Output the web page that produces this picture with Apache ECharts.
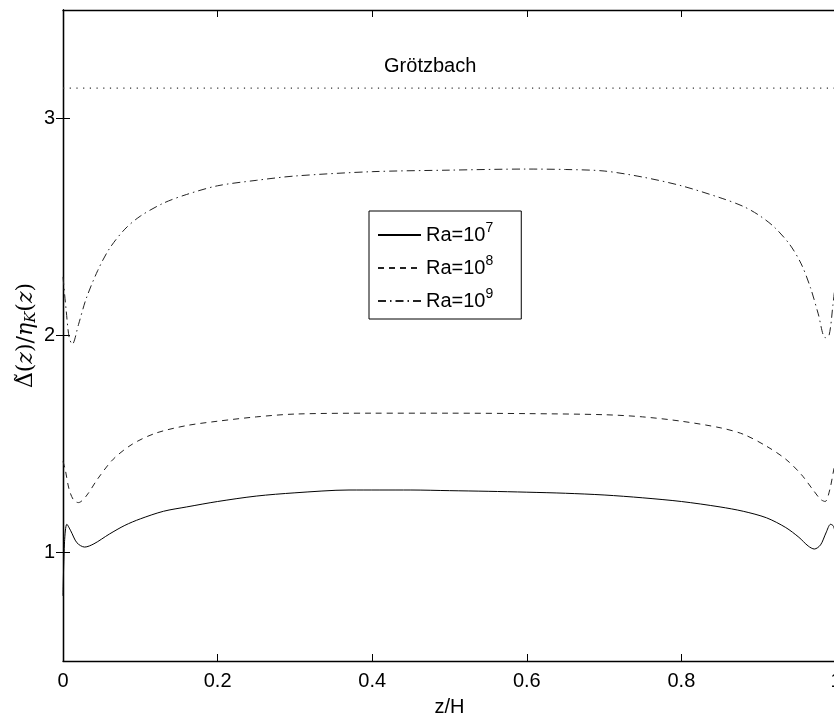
<!DOCTYPE html>
<html>
<head>
<meta charset="utf-8">
<script src="https://cdn.jsdelivr.net/npm/echarts@6/dist/echarts.min.js"></script>
<style>html,body{margin:0;padding:0;background:#fff}#c{width:834px;height:715px}</style>
</head>
<body>
<div id="c"></div>
<script>
// ---- data ----
var xTicks = [0, 0.2, 0.4, 0.6, 0.8, 1];
var yTicks = [1, 2, 3];
var seriesNames = ['Ra=10^7', 'Ra=10^8', 'Ra=10^9'];
var grotzbachValue = 3.14;
var grotzbachLabel = 'Grötzbach';
var grotzbachLabelX = 0.475;

var x7 = [0, 0.002, 0.005, 0.01, 0.018, 0.028, 0.04, 0.06, 0.08, 0.1, 0.13, 0.16, 0.2, 0.25, 0.3, 0.37, 0.45, 0.5, 0.55, 0.6, 0.65, 0.7, 0.75, 0.8, 0.85, 0.88, 0.91, 0.935, 0.952, 0.964, 0.972, 0.98, 0.987, 0.993, 0.997, 1.0];
var y7 = [0.8, 1.05, 1.13, 1.10, 1.045, 1.025, 1.04, 1.085, 1.125, 1.155, 1.19, 1.21, 1.235, 1.26, 1.275, 1.288, 1.288, 1.285, 1.282, 1.278, 1.273, 1.265, 1.252, 1.235, 1.21, 1.19, 1.16, 1.115, 1.07, 1.03, 1.016, 1.035, 1.09, 1.13, 1.12, 1.06];

var x8 = [0, 0.003, 0.008, 0.014, 0.02, 0.03, 0.045, 0.065, 0.09, 0.12, 0.16, 0.2, 0.25, 0.3, 0.4, 0.5, 0.6, 0.7, 0.75, 0.8, 0.85, 0.88, 0.91, 0.935, 0.955, 0.97, 0.98, 0.986, 0.992, 0.997, 1.0];
var y8 = [1.42, 1.38, 1.29, 1.24, 1.23, 1.26, 1.34, 1.43, 1.50, 1.55, 1.585, 1.605, 1.625, 1.638, 1.642, 1.642, 1.64, 1.635, 1.625, 1.605, 1.575, 1.545, 1.49, 1.43, 1.36, 1.29, 1.245, 1.235, 1.29, 1.38, 1.43];

var x9 = [0, 0.004, 0.008, 0.012, 0.02, 0.03, 0.045, 0.06, 0.08, 0.1, 0.13, 0.16, 0.2, 0.25, 0.3, 0.4, 0.5, 0.6, 0.65, 0.7, 0.75, 0.8, 0.85, 0.88, 0.9, 0.92, 0.94, 0.955, 0.967, 0.977, 0.986, 0.991, 0.996, 1.0];
var y9 = [2.27, 2.12, 1.99, 1.96, 2.05, 2.17, 2.30, 2.40, 2.49, 2.55, 2.61, 2.65, 2.69, 2.715, 2.735, 2.755, 2.762, 2.767, 2.765, 2.758, 2.73, 2.69, 2.635, 2.595, 2.555, 2.5, 2.42, 2.33, 2.22, 2.1, 1.99, 2.0, 2.14, 2.27];

function pairs(xs, ys) { return xs.map(function (x, i) { return [x, ys[i]]; }); }

var chart = echarts.init(document.getElementById('c'), null, { renderer: 'canvas' });
var FONT = 'Liberation Sans';
var SERIF = 'DejaVu Serif';
var axisLine = { show: true, lineStyle: { color: '#000', width: 1.3 } };
var tick = { show: true, inside: true, length: 7, lineStyle: { color: '#000', width: 1 } };

chart.setOption({
  animation: false,
  backgroundColor: '#fff',
  grid: { left: 63, top: 10, width: 773, bottom: 54, containLabel: false, outerBoundsMode: 'none' },
  xAxis: [
    { type: 'value', min: 0, max: 1, interval: 0.2, position: 'bottom',
      axisLine: axisLine, axisTick: tick, splitLine: { show: false },
      axisLabel: { color: '#000', fontFamily: FONT, fontSize: 20, margin: 10,
        customValues: xTicks, formatter: function (v) { return String(+v.toFixed(1)); } },
      name: 'z/H', nameLocation: 'middle', nameGap: 36, nameMoveOverlap: false,
      nameTextStyle: { color: '#000', fontFamily: FONT, fontSize: 20 } },
    { type: 'value', min: 0, max: 1, interval: 0.2, position: 'top',
      axisLine: axisLine, axisTick: tick, axisLabel: { show: false }, splitLine: { show: false } }
  ],
  yAxis: [
    { type: 'value', min: 0.5, max: 3.5, interval: 0.5, position: 'left',
      axisLine: axisLine, splitLine: { show: false },
      axisTick: Object.assign({}, tick, { customValues: yTicks }),
      axisLabel: { color: '#000', fontFamily: FONT, fontSize: 20, margin: 8, customValues: yTicks },
      name: '{d|Δ̃}{n|(}{i|z}{n|)/}{i|η}{s|K}{n|(}{i|z}{n|)}', nameLocation: 'middle', nameGap: 24, nameRotate: 90,
      nameMoveOverlap: false,
      nameTextStyle: { color: '#000', fontFamily: SERIF, fontSize: 22,
        rich: {
          d: { fontFamily: SERIF, fontSize: 22, color: '#000' },
          n: { fontFamily: SERIF, fontSize: 22, color: '#000' },
          i: { fontFamily: SERIF, fontStyle: 'italic', fontSize: 22, color: '#000' },
          s: { fontFamily: SERIF, fontStyle: 'italic', fontSize: 15, color: '#000', padding: [10, 0, 0, 0] }
        } } },
    { type: 'value', min: 0.5, max: 3.5, interval: 0.5, position: 'right',
      axisLine: axisLine, splitLine: { show: false },
      axisTick: Object.assign({}, tick, { customValues: yTicks }), axisLabel: { show: false } }
  ],
  legend: {
    orient: 'vertical', left: 369, top: 211,
    data: seriesNames,
    backgroundColor: '#fff', borderColor: '#000', borderWidth: 1, borderRadius: 0,
    padding: [10, 28, 8, 8],
    itemWidth: 43, itemHeight: 14, itemGap: 9,
    itemStyle: { opacity: 0 },
    textStyle: { color: '#000', fontFamily: FONT, fontSize: 20,
      rich: { b: { fontFamily: FONT, fontSize: 20, color: '#000' },
              sup: { fontFamily: FONT, fontSize: 14, color: '#000', padding: [0, 0, 14, 0] } } },
    formatter: function (name) { var p = name.split('^'); return '{b|' + p[0] + '}{sup|' + p[1] + '}'; }
  },
  series: [
    { name: seriesNames[0], type: 'line', data: pairs(x7, y7), showSymbol: false, symbol: 'none', smooth: 0.3,
      lineStyle: { color: '#000', width: 1, type: 'solid' }, itemStyle: { color: '#000' } },
    { name: seriesNames[1], type: 'line', data: pairs(x8, y8), showSymbol: false, symbol: 'none', smooth: 0.3,
      lineStyle: { color: '#222', width: 1, type: [6, 5] }, itemStyle: { color: '#222' } },
    { name: seriesNames[2], type: 'line', data: pairs(x9, y9), showSymbol: false, symbol: 'none', smooth: 0.3,
      lineStyle: { color: '#222', width: 1, type: [8, 4, 1.5, 4] }, itemStyle: { color: '#222' } },
    { name: 'grotz', type: 'line', data: [[0, grotzbachValue], [1, grotzbachValue]], symbol: 'none',
      lineStyle: { color: '#333', width: 1.2, type: [1.2, 5.5] }, silent: true,
      markPoint: { silent: true, symbol: 'circle', symbolSize: 0,
        data: [{ coord: [grotzbachLabelX, grotzbachValue] }],
        itemStyle: { color: '#000', opacity: 1 },
        label: { show: true, position: 'top', distance: 12, formatter: grotzbachLabel,
          color: '#000', opacity: 1, fontFamily: FONT, fontSize: 20, textBorderWidth: 0 } } }
  ]
});
</script>
</body>
</html>
